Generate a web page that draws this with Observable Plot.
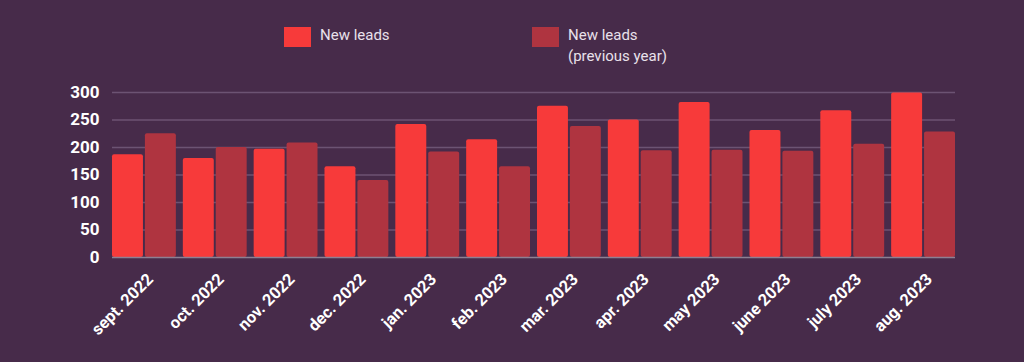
<!DOCTYPE html>
<html>
<head>
<meta charset="utf-8">
<script src="https://cdn.jsdelivr.net/npm/d3@7"></script>
<script src="https://cdn.jsdelivr.net/npm/@observablehq/plot@0.6"></script>
<style>
  html, body { margin: 0; padding: 0; background: #472b4a; }
  #wrap { width: 1024px; height: 362px; position: relative; font-family: Roboto, "Noto Sans", sans-serif; overflow: hidden; }
  #legend { position: relative; height: 72px; width: 1024px; }
  .sw { position: absolute; width: 27px; height: 20px; top: 27px; }
  .lt { position: absolute; top: 25px; font-size: 15px; line-height: 21px; color: #e9e1eb; }
  #chart svg { display: block; }
</style>
</head>
<body>
<div id="wrap">
  <div id="legend"></div>
  <div id="chart"></div>
</div>
<script>
const months = ["sept. 2022","oct. 2022","nov. 2022","dec. 2022","jan. 2023","feb. 2023","mar. 2023","apr. 2023","may 2023","june 2023","july 2023","aug. 2023"];
const newLeads = [187, 180, 197, 165, 242, 214, 275, 250, 282, 231, 267, 299];
const prevLeads = [225, 200, 208, 140, 192, 165, 238, 194, 195, 193, 206, 228];
const seriesNames = ["New leads", "New leads\n(previous year)"];
const seriesColors = ["#f73a3a", "#af3440"];
const yTicks = [0, 50, 100, 150, 200, 250, 300];

const rowsNew = months.map((m, i) => ({month: m, value: newLeads[i]}));
const rowsPrev = months.map((m, i) => ({month: m, value: prevLeads[i]}));

// legend
const legend = document.getElementById("legend");
const legendPos = [[284, 320], [532, 568]];
seriesNames.forEach((name, i) => {
  const sw = document.createElement("div");
  sw.className = "sw";
  sw.style.left = legendPos[i][0] + "px";
  sw.style.background = seriesColors[i];
  legend.appendChild(sw);
  const t = document.createElement("div");
  t.className = "lt";
  t.style.left = legendPos[i][1] + "px";
  t.innerHTML = name.split("\n").join("<br>");
  legend.appendChild(t);
});

const half = 32.9;
const chart = Plot.plot({
  width: 1024,
  height: 290,
  marginLeft: 112,
  marginRight: 69,
  marginTop: 20,
  marginBottom: 105,
  style: {background: "transparent", color: "#ffffff", fontFamily: "Roboto, sans-serif", fontWeight: "bold"},
  x: {domain: months, paddingInner: 0.0986, paddingOuter: 0, round: false, label: null},
  y: {domain: [0, 300], label: null},
  marks: [
    Plot.ruleY(yTicks.filter(d => d > 0), {stroke: "#6c5373", strokeWidth: 1.3}),
    Plot.barY(rowsNew, {x: "month", y: "value", fill: seriesColors[0], insetLeft: 0, insetRight: half, rx: 2}),
    Plot.barY(rowsPrev, {x: "month", y: "value", fill: seriesColors[1], insetLeft: half, insetRight: 0, rx: 2}),
    Plot.ruleY([0], {stroke: "#8d8093", strokeWidth: 1.5}),
    Plot.axisY({ticks: yTicks, tickSize: 0, tickPadding: 13, fontSize: 17, fill: "#ffffff", label: null}),
    Plot.axisX({tickSize: 0, tickRotate: -45, tickPadding: 19, fontSize: 16.5, fill: "#ffffff", label: null, dx: 6})
  ]
});
document.getElementById("chart").appendChild(chart);
</script>
</body>
</html>
